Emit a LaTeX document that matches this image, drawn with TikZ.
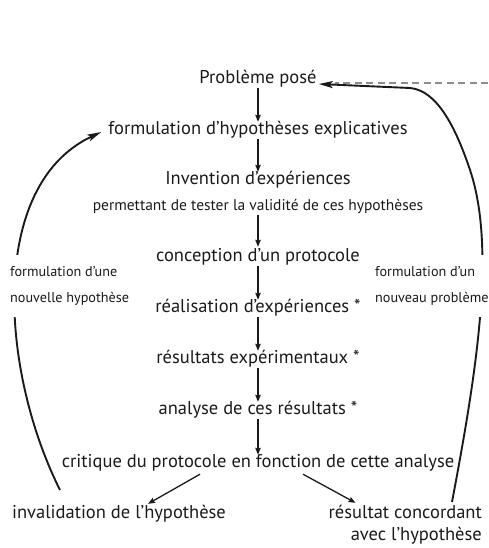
\documentclass[tikz,border=0pt]{standalone}
\usepackage{fontspec}
\setmainfont{PT Sans}
\usetikzlibrary{arrows.meta,calc}
\definecolor{ink}{HTML}{1A1A1A}
\definecolor{dashgray}{HTML}{8C8C8C}
\begin{document}
\begin{tikzpicture}[x=1pt,y=-1pt,
  main/.style={font=\fontsize{18.5}{22}\selectfont, text height=0.75em, text depth=0.25em, inner sep=0pt, text=ink},
  small/.style={font=\fontsize{15.5}{18}\selectfont, text height=0.75em, text depth=0.25em, inner sep=0pt, text=ink},
  side/.style={font=\fontsize{14.2}{26}\selectfont, align=left, fill=white, inner xsep=2pt, inner ysep=12pt, text=ink},
  flow/.style={draw=ink, line width=1.3pt, -{Stealth[length=7pt,width=5.5pt,inset=1pt]}, shorten <=2pt, shorten >=5pt},
  diag/.style={draw=ink, line width=1.3pt, -{Stealth[length=7pt,width=5.5pt,inset=1pt]}},
  loop/.style={draw=ink, line width=1.9pt, -{Stealth[length=14pt,width=7pt,inset=3pt]}}
]
\useasboundingbox (0,0) rectangle (488,548);

\node[main] (prob) at (258,81) {Problème posé};
\node[main] (form) at (258,132) {formulation d’hypothèses explicatives};
\node[main] (inv) at (258,182) {Invention d’expériences};
\node[small] (perm) at (258,208) {permettant de tester la validité de ces hypothèses};
\node[main] (conc) at (258,259) {conception d’un protocole};
\node[main] (real) at (258,310) {réalisation d’expériences *};
\node[main] (res) at (258,361) {résultats expérimentaux *};
\node[main] (ana) at (258,412) {analyse de ces résultats *};
\node[main] (crit) at (258,465) {critique du protocole en fonction de cette analyse};
\node[main] (invl) at (119,516) {invalidation de l’hypothèse};
\node[main, anchor=east] (ok1) at (482,516) {résultat concordant};
\node[main, anchor=east, text depth=0.2em] (ok2) at (482,538) {avec l’hypothèse};

\draw[flow] (prob) -- (form);
\draw[flow] (form) -- (inv);
\draw[flow, shorten <=2pt, shorten >=7pt] (perm) -- (conc);
\draw[flow] (conc) -- (real);
\draw[flow] (real) -- (res);
\draw[flow] (res) -- (ana);
\draw[flow] (ana) -- (crit);
\draw[diag] ($(crit.south)+(-58,4)$) -- ($(invl.north)+(29,-7)$);
\draw[diag] ($(crit.south)+(45,4)$) -- ($(ok1.north west)+(27,-8)$);

% loops
\coordinate (l0) at (60,490);
\draw[loop] (l0) .. controls (0,370) and (-12,185) .. ([xshift=-7pt]form.west);

\coordinate (dr) at (488,83);
\draw[dashgray, line width=1.6pt, dash pattern=on 7pt off 4.5pt] (dr) -- (335,83);
\coordinate (r0) at (452,502);
\draw[loop] (r0) .. controls (475,380) and (497,250) .. (470,170)
  .. controls (450,110) and (430,90) .. (410,88) -- ([xshift=2pt,yshift=-3pt]prob.east);

\node[side, anchor=west] (lnew) at (8,286) {formulation d’une\\nouvelle hypothèse};
\node[side, anchor=west] (rnew) at (373,286) {formulation d’un\\nouveau problème};
\end{tikzpicture}
\end{document}
